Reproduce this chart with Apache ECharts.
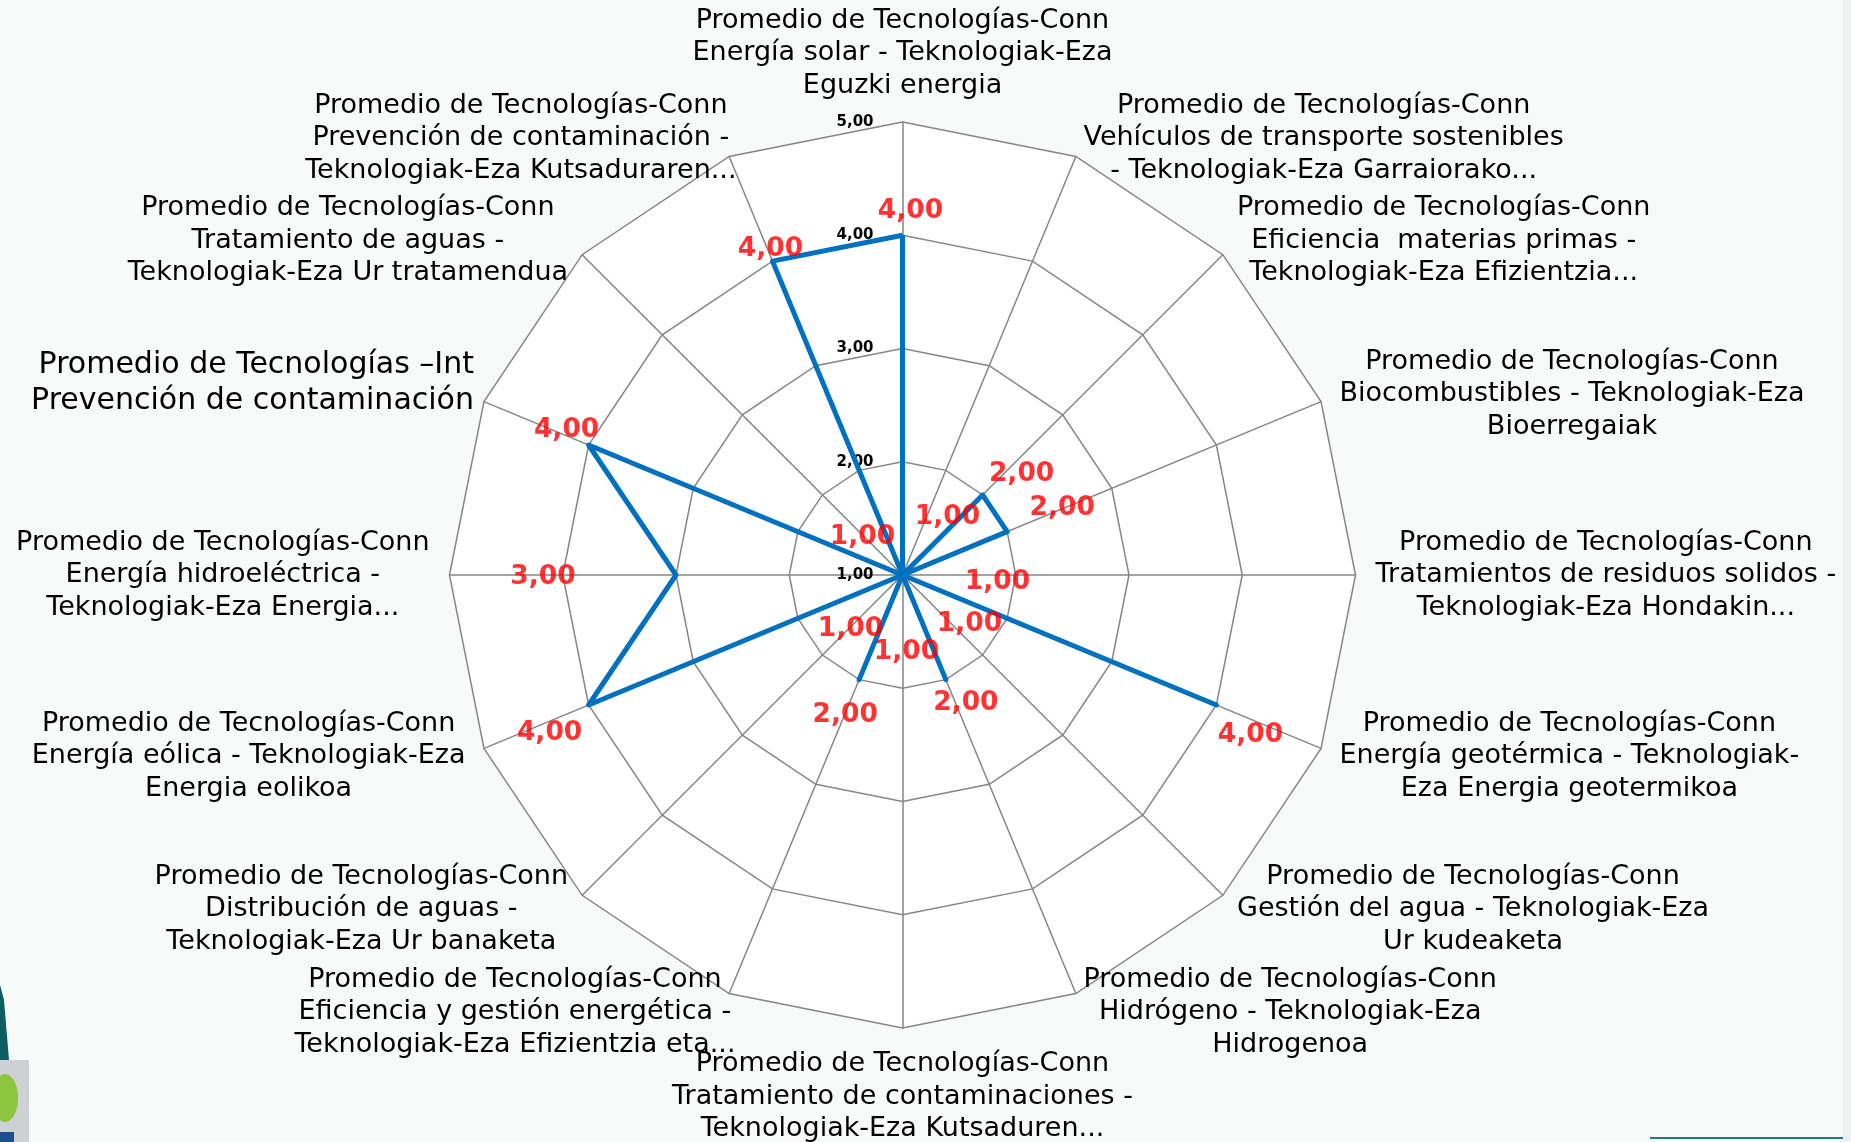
<!DOCTYPE html>
<html>
<head>
<meta charset="utf-8">
<script src="https://cdn.jsdelivr.net/npm/echarts@6/dist/echarts.min.js"></script>
<style>
  html, body { margin: 0; padding: 0; background: #f8fafa; }
  #chart { width: 1851px; height: 1142px; }
</style>
</head>
<body>
<div id="chart"></div>
<script>
// Technology averages, clockwise from the top axis
const categories = [
  'Promedio de Tecnologías-Conn\nEnergía solar - Teknologiak-Eza\nEguzki energia',
  'Promedio de Tecnologías-Conn\nVehículos de transporte sostenibles\n- Teknologiak-Eza Garraiorako...',
  'Promedio de Tecnologías-Conn\nEficiencia  materias primas -\nTeknologiak-Eza Efizientzia...',
  'Promedio de Tecnologías-Conn\nBiocombustibles - Teknologiak-Eza\nBioerregaiak',
  'Promedio de Tecnologías-Conn\nTratamientos de residuos solidos -\nTeknologiak-Eza Hondakin...',
  'Promedio de Tecnologías-Conn\nEnergía geotérmica - Teknologiak-\nEza Energia geotermikoa',
  'Promedio de Tecnologías-Conn\nGestión del agua - Teknologiak-Eza\nUr kudeaketa',
  'Promedio de Tecnologías-Conn\nHidrógeno - Teknologiak-Eza\nHidrogenoa',
  'Promedio de Tecnologías-Conn\nTratamiento de contaminaciones -\nTeknologiak-Eza Kutsaduren...',
  'Promedio de Tecnologías-Conn\nEficiencia y gestión energética -\nTeknologiak-Eza Efizientzia eta...',
  'Promedio de Tecnologías-Conn\nDistribución de aguas -\nTeknologiak-Eza Ur banaketa',
  'Promedio de Tecnologías-Conn\nEnergía eólica - Teknologiak-Eza\nEnergia eolikoa',
  'Promedio de Tecnologías-Conn\nEnergía hidroeléctrica -\nTeknologiak-Eza Energia...',
  'Promedio de Tecnologías –Int\nPrevención de contaminación',
  'Promedio de Tecnologías-Conn\nTratamiento de aguas -\nTeknologiak-Eza Ur tratamendua',
  'Promedio de Tecnologías-Conn\nPrevención de contaminación -\nTeknologiak-Eza Kutsaduraren...'
];
const values = [4, 1, 2, 2, 1, 4, 1, 2, 1, 2, 1, 4, 3, 4, 1, 4];

// Scale of every axis
const tickValues = [1, 2, 3, 4, 5];
const tickLabels = ['1,00', '2,00', '3,00', '4,00', '5,00'];

// Axis names drawn with the larger type
const largeNameIndex = [13];

// Per-axis nudges of the axis names (padding of the text box, px)
const namePadding = {
  9: [0, -14, 0, 0],
  13: [0, -14, 16, 0],
  15: [0, -15, 0, 0]
};

// Where each value label sits relative to its point (px)
const valueLabelOffsets = [
  [8, -24], [45, -58], [39, -21], [55, -24], [95, 7], [34, 30], [67, 49], [20, 23],
  [4, 77], [-14, 35], [-52, 54], [-39, 28], [-133, 2], [-22, -15], [-40, -38], [-2, -12]
];

const FONT = 'DejaVu Sans';
const CENTER = [902.5, 575];
const RADIUS = 453;

const fmtValue = v => v.toFixed(2).replace('.', ',');

// The radar component lays its indicators out counter-clockwise, so feed it
// the categories in reverse (keeping the first one at the top).
const radarOrder = categories.map((_, k) => (categories.length - k) % categories.length);
const radarValues = radarOrder.map(i => values[i]);

const chart = echarts.init(document.getElementById('chart'), null, { renderer: 'canvas' });

chart.setOption({
  backgroundColor: '#f8fafa',
  animation: false,
  graphic: [
    // logo fragment at the lower-left corner
    { type: 'polygon', shape: { points: [[0, 985], [4, 1000], [9, 1060], [0, 1060]] }, style: { fill: '#0d5e63' }, silent: true },
    { type: 'rect', shape: { x: 0, y: 1060, width: 29, height: 82 }, style: { fill: '#cdd1d4' }, silent: true },
    { type: 'ellipse', shape: { cx: 5, cy: 1098, rx: 13, ry: 24 }, style: { fill: '#8cc63e' }, silent: true },
    { type: 'rect', shape: { x: 0, y: 1132, width: 14, height: 10 }, style: { fill: '#1f4e8c' }, silent: true },
    // footer rule at the lower-right corner
    { type: 'rect', shape: { x: 1650, y: 1137, width: 195, height: 2 }, style: { fill: '#1d7c80' }, silent: true },
    { type: 'rect', shape: { x: 1843, y: 0, width: 8, height: 1142 }, style: { fill: '#eef1f2' }, silent: true }
  ],
  radar: {
    center: CENTER,
    radius: RADIUS,
    startAngle: 90,
    shape: 'polygon',
    splitNumber: 4,
    nameGap: 20,
    indicator: radarOrder.map(i => {
      const ind = { name: categories[i], min: 1, max: 5 };
      if (i === 0) ind.axisLabel = { show: true };
      if (largeNameIndex.indexOf(i) >= 0) ind.nameGap = 26;
      if (namePadding[i]) ind.nameTextStyle = { padding: namePadding[i] };
      return ind;
    }),
    axisName: {
      color: '#000',
      fontFamily: FONT,
      fontSize: 27,
      formatter: function (name) {
        const big = largeNameIndex.indexOf(categories.indexOf(name)) >= 0;
        return name.split('\n').map(l => '{' + (big ? 'b' : 'c') + '|' + l + '}').join('\n');
      },
      rich: {
        c: { fontFamily: FONT, fontSize: 27, lineHeight: 32.5, color: '#000', align: 'center' },
        b: { fontFamily: FONT, fontSize: 30, lineHeight: 36, color: '#000', align: 'right' }
      }
    },
    axisLine: { lineStyle: { color: '#868686', width: 1.5 } },
    splitLine: { lineStyle: { color: '#868686', width: 1.5 } },
    splitArea: { show: true, areaStyle: { color: ['#ffffff'] } },
    axisTick: { show: false },
    axisLabel: {
      show: false,
      margin: 29,
      color: '#000',
      fontFamily: FONT,
      fontWeight: 'bold',
      fontSize: 15,
      formatter: v => tickLabels[tickValues.indexOf(v)]
    }
  },
  // invisible polar frame that shares the radar's centre and scale, used to place the value labels
  polar: { center: CENTER, radius: RADIUS },
  angleAxis: {
    type: 'value', min: 0, max: categories.length, startAngle: 90, clockwise: true,
    show: false, axisLine: { show: false }, axisTick: { show: false }, axisLabel: { show: false }, splitLine: { show: false }
  },
  radiusAxis: {
    type: 'value', min: 1, max: 5,
    show: false, axisLine: { show: false }, axisTick: { show: false }, axisLabel: { show: false }, splitLine: { show: false }
  },
  series: [
    {
      type: 'radar',
      symbol: 'none',
      silent: true,
      lineStyle: { color: '#0070C0', width: 5 },
      data: [{ value: radarValues, name: 'Promedio' }],
      z: 3
    },
    {
      type: 'scatter',
      coordinateSystem: 'polar',
      symbolSize: 1,
      silent: true,
      itemStyle: { color: 'rgba(0,0,0,0)' },
      label: {
        show: true,
        position: 'inside',
        color: '#ff0000',
        fontFamily: FONT,
        fontWeight: 'bold',
        fontSize: 26.5,
        formatter: p => fmtValue(p.value[0])
      },
      data: values.map((v, i) => ({ value: [v, i], label: { offset: valueLabelOffsets[i] } })),
      z: 5
    }
  ]
});
</script>
</body>
</html>
